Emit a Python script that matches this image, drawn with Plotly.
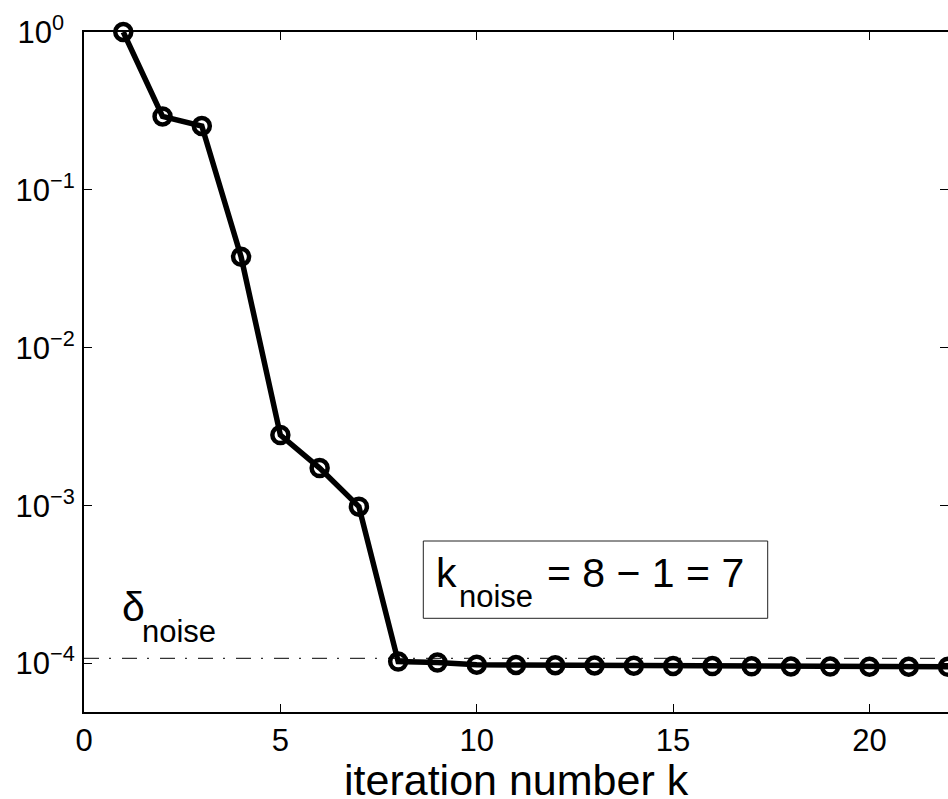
import plotly.graph_objects as go

# Residual norm per iteration
iterations = list(range(1, 23))
residual = [1.0, 0.292, 0.254, 0.0377, 0.0028, 0.00173, 0.000986,
            1.03e-4, 1.015e-4, 9.85e-5, 9.8e-5, 9.76e-5, 9.73e-5, 9.7e-5,
            9.67e-5, 9.64e-5, 9.61e-5, 9.59e-5, 9.57e-5, 9.56e-5, 9.55e-5, 9.54e-5]

# Noise level
delta_noise = 1.08e-4
noise_span = [0, 22]

# Axis ticks
x_range = [0, 22]
x_ticks = [0, 5, 10, 15, 20]
y_ticks = [1e-4, 1e-3, 1e-2, 1e-1, 1e0]
y_ticklabels = ["10<sup>\u22124</sup>", "10<sup>\u22123</sup>", "10<sup>\u22122</sup>",
                "10<sup>\u22121</sup>", "10<sup>0\u2002</sup>"]

FONT = "Liberation Sans, Arial, Helvetica, sans-serif"
W, H = 948, 799
PL, PT, PW, PH = 84, 32, 864, 680          # plot area in pixels
y_range = [-4.3066, 0]


def paper(px, py):
    """Pixel position -> paper coordinates of the plot area."""
    return (px - PL) / PW, (PT + PH - py) / PH


def text_piece(text, px, py, size, xanchor="left", yanchor="bottom"):
    x, y = paper(px, py)
    return dict(x=x, y=y, xref="paper", yref="paper", text=text,
                showarrow=False, xanchor=xanchor, yanchor=yanchor,
                borderpad=0, font=dict(family=FONT, size=size, color="black"))


fig = go.Figure()

# dash-dot noise level (also carries the right-hand tick axis)
fig.add_trace(go.Scatter(
    x=noise_span, y=[delta_noise, delta_noise], mode="lines",
    line=dict(color="black", width=1, dash="15px,10px,2px,11px"),
    yaxis="y2", hoverinfo="skip", showlegend=False,
))

fig.add_trace(go.Scatter(
    x=iterations, y=residual, mode="lines+markers",
    line=dict(color="black", width=5.5),
    marker=dict(symbol="circle-open", size=16, color="black",
                line=dict(color="black", width=4.5)),
    cliponaxis=False, showlegend=False,
))

axis_common = dict(showgrid=False, zeroline=False, ticks="inside", ticklen=8,
                   tickwidth=1, tickcolor="black",
                   tickfont=dict(family=FONT, size=31, color="black"))

# boxed k_noise label
bx0, by0 = paper(423.3, 618.3)
bx1, by1 = paper(767.7, 541.0)

annotations = [
    # k_noise = 8 - 1 = 7
    text_piece("k", 435.3, 596.7, 41),
    text_piece("noise", 457.5, 614.6, 31),
    text_piece("= 8 \u2212 1 = 7", 546.3, 596.7, 41),
    # delta_noise
    text_piece("\u03b4", 121.0, 630.7, 41),
    text_piece("noise", 141.3, 649.9, 31),
    # x axis title
    text_piece("iteration number k", 516.5, 805.0, 43, xanchor="center"),
]

fig.update_layout(
    width=W, height=H, autosize=False,
    margin=dict(l=PL, r=W - PL - PW, t=PT, b=H - PT - PH, pad=0),
    paper_bgcolor="white", plot_bgcolor="white",
    font=dict(family=FONT, color="black"),
    xaxis=dict(range=x_range, tickmode="array", tickvals=x_ticks,
               showline=True, linecolor="black", linewidth=2, mirror="ticks",
               automargin=False, ticklabelstandoff=0,
               **axis_common),
    yaxis=dict(type="log", range=y_range, tickmode="array", tickvals=y_ticks,
               ticktext=y_ticklabels, showline=True, linecolor="black",
               linewidth=2, automargin=False, ticklabelstandoff=1,
               **axis_common),
    yaxis2=dict(type="log", range=y_range, overlaying="y", side="right",
                anchor="x", tickmode="array", tickvals=y_ticks,
                showticklabels=False, showline=False, showgrid=False,
                zeroline=False, ticks="inside", ticklen=8, tickwidth=1,
                tickcolor="black"),
    shapes=[dict(type="rect", xref="paper", yref="paper",
                 x0=bx0, y0=by0, x1=bx1, y1=by1,
                 line=dict(color="#222222", width=1), fillcolor="white",
                 layer="above")],
    annotations=annotations,
)

fig.write_html("out.html")
